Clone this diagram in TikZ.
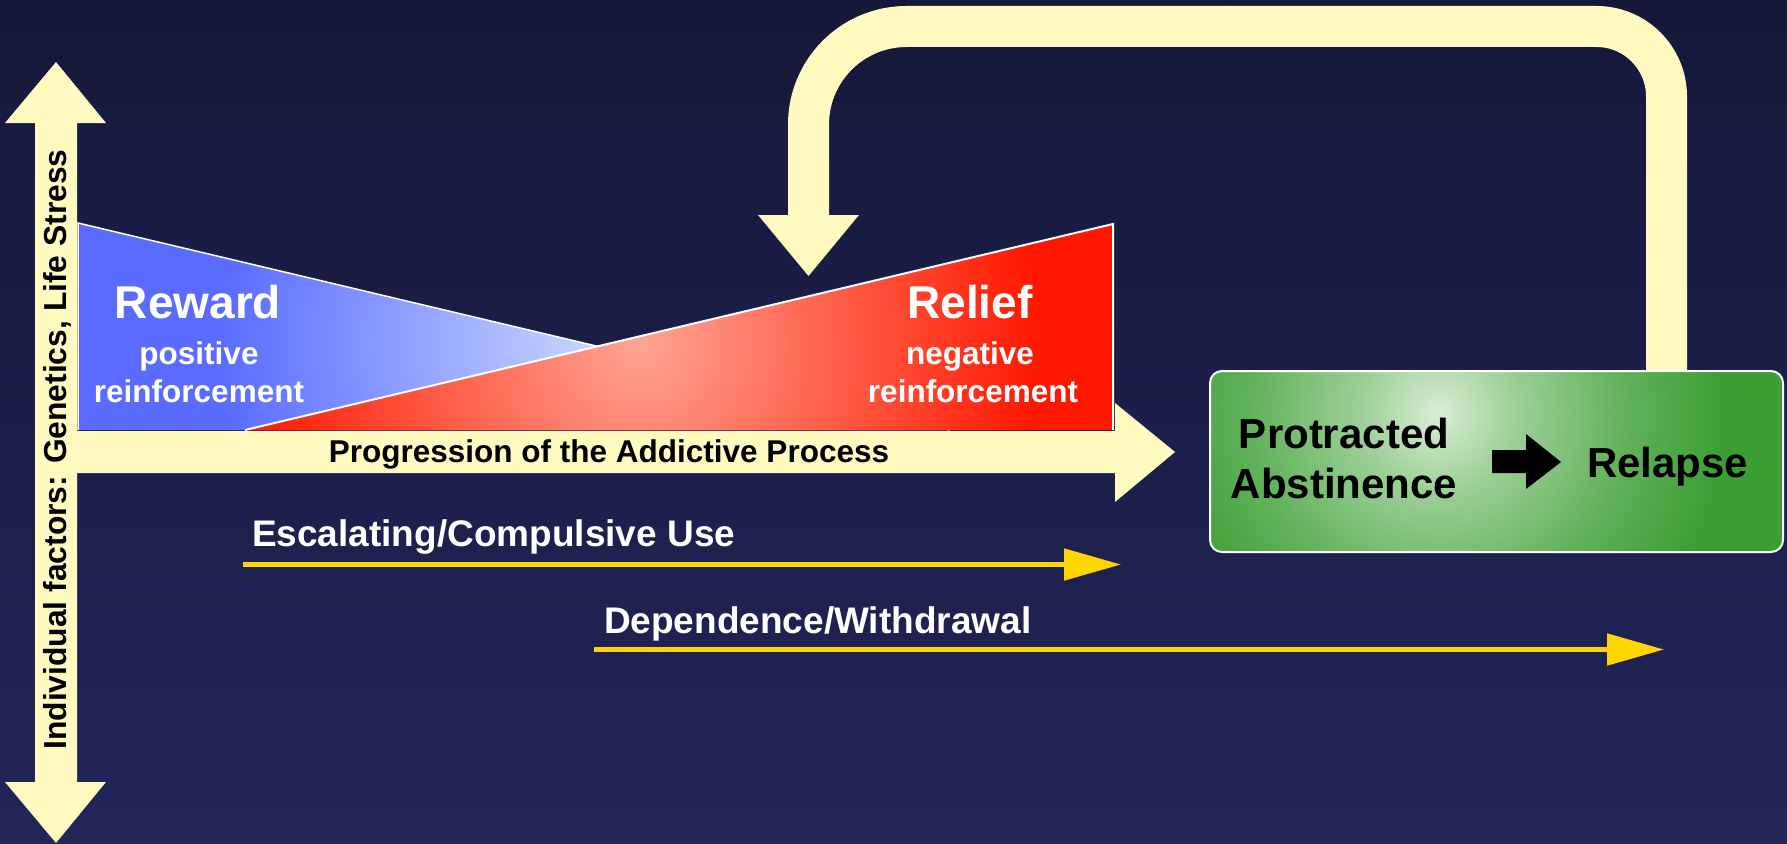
\documentclass[tikz,border=0pt]{standalone}
\usepackage{fontspec}
\setmainfont{Liberation Sans}
\usetikzlibrary{calc,arrows.meta}

\definecolor{bgtop}{HTML}{16183A}
\definecolor{bgbot}{HTML}{222558}
\definecolor{pale}{HTML}{FFFBC0}
\definecolor{gold}{HTML}{FFD500}
\definecolor{blueA}{HTML}{5A6CFF}
\definecolor{blueB}{HTML}{C9D7FF}
\definecolor{redA}{HTML}{FF1800}
\definecolor{redB}{HTML}{FFA593}
\definecolor{greenA}{HTML}{3A9E33}
\definecolor{greenB}{HTML}{D8EDD3}

\pgfdeclareradialshading{greenglow}{\pgfpointorigin}{color(0bp)=(greenB); color(4bp)=(greenB!62!greenA); color(9.5bp)=(greenB!24!greenA); color(14.5bp)=(greenA); color(50bp)=(greenA)}

\begin{document}
\begin{tikzpicture}[x=1pt,y=-1pt,
  lbl/.style={inner sep=0pt, outer sep=0pt},
  headtxt/.style={lbl, text=white, font=\bfseries\fontsize{46pt}{48pt}\selectfont},
  subtxt/.style={lbl, text=white, font=\bfseries\fontsize{31.5pt}{33pt}\selectfont},
  progtxt/.style={lbl, text=black, font=\bfseries\fontsize{31.5pt}{33pt}\selectfont},
  usetxt/.style={lbl, text=white, font=\bfseries\fontsize{37pt}{39pt}\selectfont},
  boxtxt/.style={lbl, text=black, font=\bfseries\fontsize{42pt}{44pt}\selectfont},
  sidetxt/.style={lbl, text=black, font=\bfseries\fontsize{31.8pt}{33pt}\selectfont},
  goldarrow/.style={draw=gold, line width=5pt, -{Triangle[length=57pt,width=31pt,fill=gold]}}
]
% background
\shade[top color=bgtop, bottom color=bgbot] (0,0) rectangle (1787,843);
\useasboundingbox (0,0) rectangle (1787,843);

% loop arrow (relapse back to process)
\coordinate (loopA) at (1666.5,372);
\coordinate (loopM) at (1230,26.5);
\coordinate (loopB) at (808.5,215);
\draw[pale, line width=41pt, rounded corners=70pt] (loopA) -- (loopA |- loopM) -- (loopM);
\draw[pale, line width=41pt, rounded corners=98pt] (loopM) -- (loopB |- loopM) -- (loopB);
\fill[pale] (758,215) -- (859,215) -- (808.5,276) -- cycle;

% vertical double arrow
\fill[pale] (56,62) -- (106,123) -- (77,123) -- (77,782) -- (106,782) -- (56,843)
  -- (5,782) -- (35,782) -- (35,123) -- (5,123) -- cycle;

% horizontal progression arrow
\fill[pale] (35,431) -- (1115,431) -- (1115,403) -- (1175,452) -- (1115,502)
  -- (1115,473) -- (35,473) -- cycle;

% blue triangle (reward)
\coordinate (bTL) at (78,223);
\coordinate (bBL) at (78,430);
\coordinate (bR) at (950,430);
\fill[blueA] (bTL) -- (bBL) -- (bR) -- cycle;
\begin{scope}
  \clip (bTL) -- (bBL) -- (bR) -- cycle;
  \shade[inner color=blueB, outer color=blueA] (600,342) circle (380pt);
\end{scope}
\draw[white, line width=1.5pt] (bBL) -- (bTL) -- (bR);

% red triangle (relief)
\coordinate (rL) at (245,430);
\coordinate (rTR) at (1113,224);
\coordinate (rBR) at (1113,430);
\fill[redA] (rL) -- (rTR) -- (rBR) -- cycle;
\begin{scope}
  \clip (rL) -- (rTR) -- (rBR) -- cycle;
  \shade[inner color=redB, outer color=redA] (640,345) circle (400pt);
\end{scope}
\draw[white, line width=2pt] (rL) -- (rTR) -- (rBR);

% green box
\node[name=box, draw=white, line width=2pt, rounded corners=12pt, fill=greenA,
  minimum width=573pt, minimum height=181pt, inner sep=0pt,
  path picture={\shade[shading=greenglow] ($(path picture bounding box.north west)+(228,42)$) circle (500pt);}]
  at (1496.5,461.5) {};

% labels
\node[headtxt, anchor=base] (reward) at (198,318) {Reward};
\node[subtxt, anchor=base] (pos) at (199,364) {positive};
\node[subtxt, anchor=base] (posr) at (199,402) {reinforcement};
\node[headtxt, anchor=base] (relief) at (970,318) {Relief};
\node[subtxt, anchor=base] (neg) at (970,364) {negative};
\node[subtxt, anchor=base] (negr) at (973,402) {reinforcement};
\node[progtxt, anchor=base] (prog) at (609,462) {Progression of the Addictive Process};
\node[usetxt, anchor=base west] (esc) at (252,546) {Escalating/Compulsive Use};
\node[usetxt, anchor=base west] (dep) at (604,633) {Dependence/Withdrawal};
\node[sidetxt, rotate=90, anchor=base] (side) at (66,449.5) {Individual factors: Genetics, Life Stress};
\node[boxtxt, anchor=base] (prot) at (1344,448) {Protracted};
\node[boxtxt, anchor=base] (abst) at (1344,498) {Abstinence};
\node[boxtxt, anchor=base west] (rel) at (1587,477) {Relapse};

% black arrow inside box
\fill[black] (1492,450) -- (1526,450) -- (1526,434) -- (1561,462) -- (1526,489)
  -- (1526,473) -- (1492,473) -- cycle;

% gold arrows
\coordinate (e1) at (243,564.5);
\coordinate (e2) at (1121,564.5);
\coordinate (d1) at (594,649.5);
\coordinate (d2) at (1664,649.5);
\draw[goldarrow] (e1) -- (e2);
\draw[goldarrow] (d1) -- (d2);
\end{tikzpicture}
\end{document}
